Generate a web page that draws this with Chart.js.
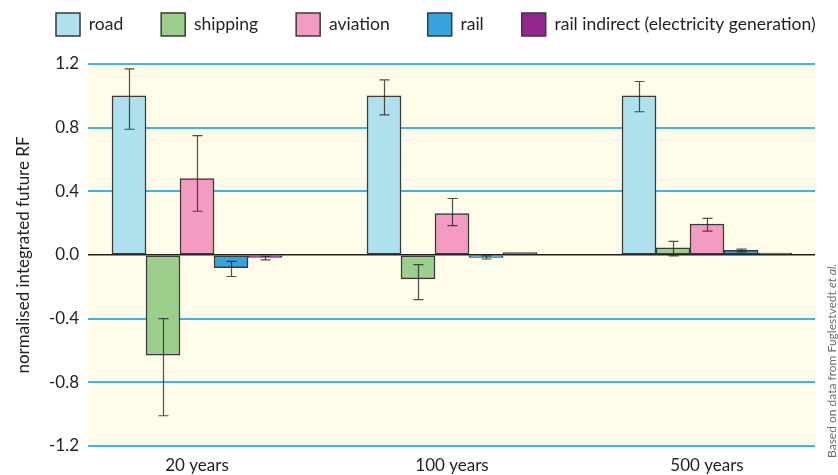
<!DOCTYPE html>
<html>
<head>
<meta charset="utf-8">
<script src="https://cdn.jsdelivr.net/npm/chart.js@4/dist/chart.umd.min.js"></script>
<style>
  html, body { margin: 0; padding: 0; background: #ffffff; }
  #wrap { width: 838px; height: 475px; position: relative; }
</style>
</head>
<body>
<div id="wrap"><canvas id="rf"></canvas></div>
<script>
// horizons on the x axis
const horizons = ["20 years", "100 years", "500 years"];
const yTicks = [-1.2, -0.8, -0.4, 0.0, 0.4, 0.8, 1.2];

// bar heights per mode
const road = [1.0, 1.0, 1.0];
const shipping = [-0.63, -0.15, 0.045];
const aviation = [0.48, 0.26, 0.195];
const rail = [-0.08, -0.015, 0.03];
const railIndirect = [-0.015, 0.015, 0.012];

// error bar ends (low / high)
const roadLow = [0.79, 0.88, 0.90];
const roadHigh = [1.17, 1.10, 1.09];
const shippingLow = [-1.01, -0.28, -0.005];
const shippingHigh = [-0.40, -0.06, 0.085];
const aviationLow = [0.275, 0.185, 0.15];
const aviationHigh = [0.75, 0.355, 0.23];
const railLow = [-0.135, -0.025, 0.02];
const railHigh = [-0.04, -0.005, 0.037];
const railIndirectLow = [-0.03, null, null];
const railIndirectHigh = [-0.008, null, null];

const font = "Lato";
const textCol = "#231f20";

function series(label, vals, lo, hi, color) {
  return {
    label,
    data: vals.map((v, i) => ({ x: i, y: v })),
    errLow: lo,
    errHigh: hi,
    backgroundColor: color,
    borderColor: "#3a3a3a",
    borderWidth: 1.5,
    borderSkipped: false,
    barThickness: 34
  };
}

const paneBg = {
  id: "paneBg",
  beforeDraw(chart) {
    const { ctx, chartArea: a } = chart;
    ctx.save();
    ctx.fillStyle = "#fffce9";
    ctx.fillRect(a.left, a.top, a.right - a.left, a.bottom - a.top);
    ctx.restore();
  }
};

const errorBars = {
  id: "errorBars",
  afterDatasetsDraw(chart) {
    const { ctx } = chart;
    const ys = chart.scales.y;
    ctx.save();
    ctx.strokeStyle = "rgba(35,35,35,0.8)";
    ctx.lineWidth = 1.2;
    chart.data.datasets.forEach((ds, di) => {
      const meta = chart.getDatasetMeta(di);
      meta.data.forEach((bar, i) => {
        const lo = ds.errLow[i], hi = ds.errHigh[i];
        if (lo == null || hi == null) return;
        const x = Math.round(bar.x) + 0.5;
        const y1 = ys.getPixelForValue(lo), y2 = ys.getPixelForValue(hi);
        ctx.beginPath();
        ctx.moveTo(x, y1); ctx.lineTo(x, y2);
        ctx.moveTo(x - 5, y1); ctx.lineTo(x + 5, y1);
        ctx.moveTo(x - 5, y2); ctx.lineTo(x + 5, y2);
        ctx.stroke();
      });
    });
    ctx.restore();
  }
};

const sideNote = {
  id: "sideNote",
  afterDraw(chart) {
    const { ctx } = chart;
    ctx.save();
    ctx.translate(832, 458);
    ctx.rotate(-Math.PI / 2);
    ctx.fillStyle = "#6d6e70";
    ctx.textBaseline = "middle";
    ctx.textAlign = "left";
    ctx.font = "12px " + font;
    const a = "Based on data from Fuglestvedt ";
    ctx.fillText(a, 0, 0);
    const w = ctx.measureText(a).width;
    ctx.font = "italic 12px " + font;
    ctx.fillText("et al.", w, 0);
    ctx.restore();
  }
};

const legendPlace = {
  id: "legendPlace",
  beforeInit(chart) {
    const fit = chart.legend.fit;
    chart.legend.fit = function () {
      fit.call(this);
      this.height = 64;
    };
  },
  afterLayout(chart) {
    const lg = chart.legend;
    const p = lg.options.labels.padding;
    lg.left = 56 - p;
    lg.right = lg.left + 1200;
    lg.top = 13 - p;
  }
};

new Chart(document.getElementById("rf"), {
  type: "bar",
  data: {
    datasets: [
      series("road", road, roadLow, roadHigh, "#aee0ee"),
      series("shipping", shipping, shippingLow, shippingHigh, "#9bcf8b"),
      series("aviation", aviation, aviationLow, aviationHigh, "#f39bc2"),
      series("rail", rail, railLow, railHigh, "#35a3dd"),
      series("rail indirect (electricity generation)", railIndirect, railIndirectLow, railIndirectHigh, "#92278f")
    ]
  },
  options: {
    responsive: true,
    maintainAspectRatio: false,
    animation: false,
    layout: { padding: { left: 0, right: 23, top: 0, bottom: 0 } },
    plugins: {
      legend: {
        position: "top",
        align: "start",
        labels: {
          boxWidth: 24,
          boxHeight: 23,
          padding: 38,
          color: textCol,
          font: { family: font, size: 17.5 }
        }
      },
      tooltip: { enabled: false }
    },
    scales: {
      x: {
        type: "linear",
        offset: false,
        min: -0.4275,
        max: 2.4235,
        afterBuildTicks: s => { s.ticks = horizons.map((h, i) => ({ value: i })); },
        afterFit: s => { s.height = 29; },
        grid: { display: false, drawTicks: false },
        border: { display: false },
        ticks: {
          padding: 9,
          color: textCol,
          font: { family: font, size: 17 },
          callback: v => horizons[v]
        }
      },
      y: {
        min: -1.2,
        max: 1.2,
        afterBuildTicks: s => { s.ticks = yTicks.map(v => ({ value: v })); },
        afterFit: s => { s.width = 88; },
        border: { display: false },
        grid: {
          drawTicks: false,
          color: c => Math.abs(c.tick.value) < 1e-9 ? "#231f20" : "#3db5e6",
          lineWidth: c => Math.abs(c.tick.value) < 1e-9 ? 1.5 : 2
        },
        ticks: {
          padding: 9,
          color: textCol,
          font: { family: font, size: 17 },
          callback: v => Math.abs(v) < 1e-9 ? "0.0" : v.toFixed(1)
        },
        title: {
          display: true,
          text: "normalised integrated future RF",
          color: textCol,
          font: { family: font, size: 17 },
          padding: { top: 13, bottom: 0 }
        }
      }
    }
  },
  plugins: [paneBg, errorBars, sideNote, legendPlace]
});
</script>
</body>
</html>
